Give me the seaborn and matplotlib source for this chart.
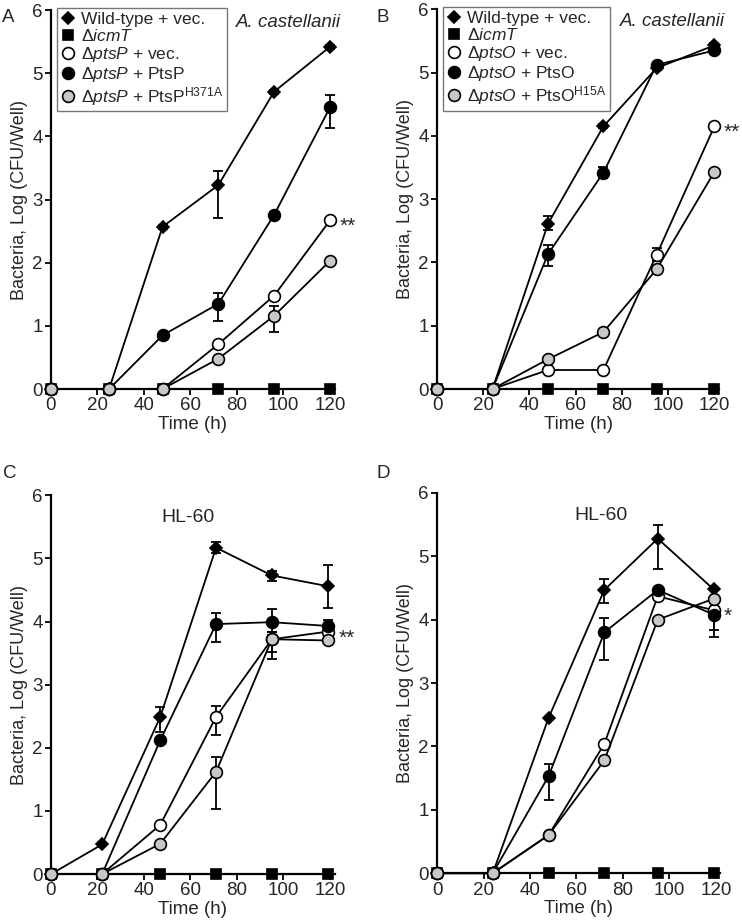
import matplotlib
matplotlib.use("Agg")
import matplotlib.pyplot as plt
from matplotlib.lines import Line2D
import seaborn as sns
import numpy as np

# ---------------- data ----------------
timeA = [0, 25, 48, 72, 96, 120]
A_wt = [0, 0, 2.57, 3.23, 4.71, 5.42]
A_wt_err = [(0, 0), (0, 0), (0.03, 0.03), (0.52, 0.22), (0.03, 0.03), (0.03, 0.03)]
A_icmT = [0, 0, 0, 0, 0, 0]
A_vec = [0, 0, 0, 0.71, 1.48, 2.67]
A_vec_err = [(0, 0)] * 6
A_comp = [0, 0, 0.85, 1.35, 2.76, 4.46]
A_comp_err = [(0, 0), (0, 0), (0.03, 0.03), (0.28, 0.17), (0.04, 0.04), (0.33, 0.19)]
A_mut = [0, 0, 0, 0.48, 1.16, 2.03]
A_mut_err = [(0, 0), (0, 0), (0, 0), (0.03, 0.03), (0.25, 0.16), (0.03, 0.03)]

timeB = [0, 24, 48, 72, 95, 120]
B_wt = [0, 0, 2.61, 4.15, 5.07, 5.43]
B_wt_err = [(0, 0), (0, 0), (0.10, 0.12), (0.03, 0.03), (0.03, 0.03), (0.04, 0.04)]
B_icmT = [0, 0, 0, 0, 0, 0]
B_vec = [0, 0, 0.30, 0.30, 2.12, 4.15]
B_vec_err = [(0, 0), (0, 0), (0, 0), (0, 0), (0.10, 0.10), (0, 0)]
B_comp = [0, 0, 2.13, 3.42, 5.12, 5.35]
B_comp_err = [(0, 0), (0, 0), (0.19, 0.15), (0.09, 0.08), (0.03, 0.03), (0.03, 0.03)]
B_mut = [0, 0, 0.47, 0.90, 1.89, 3.43]
B_mut_err = [(0, 0)] * 6

timeC = [0, 22, 47, 71, 95, 119]
C_wt = [0, 0.47, 2.49, 5.17, 4.73, 4.56]
C_wt_err = [(0, 0), (0, 0), (0.24, 0.15), (0.09, 0.09), (0.08, 0.07), (0.35, 0.33)]
C_icmT = [0, 0, 0, 0, 0, 0]
C_vec = [0, 0, 0.78, 2.49, 3.72, 3.84]
C_vec_err = [(0, 0), (0, 0), (0, 0), (0.29, 0.17), (0.20, 0.12), (0, 0)]
C_comp = [0, 0, 2.12, 3.96, 3.99, 3.93]
C_comp_err = [(0, 0), (0, 0), (0, 0), (0.29, 0.17), (0.21, 0.21), (0.09, 0.09)]
C_mut = [0, 0, 0.48, 1.62, 3.72, 3.70]
C_mut_err = [(0, 0), (0, 0), (0, 0), (0.59, 0.24), (0.32, 0.12), (0, 0)]

timeD = [0, 24, 48, 72, 95, 119]
D_wt = [0, 0, 2.45, 4.47, 5.28, 4.48]
D_wt_err = [(0, 0), (0, 0), (0, 0), (0.20, 0.18), (0.48, 0.22), (0, 0)]
D_icmT = [0, 0, 0, 0, 0, 0]
D_vec = [0, 0, 0.60, 2.04, 4.37, 4.15]
D_vec_err = [(0, 0), (0, 0), (0, 0), (0, 0), (0, 0), (0.31, 0)]
D_comp = [0, 0, 1.53, 3.80, 4.47, 4.08]
D_comp_err = [(0, 0), (0, 0), (0.37, 0.19), (0.44, 0.22), (0, 0), (0.36, 0.18)]
D_mut = [0, 0, 0.60, 1.78, 4.00, 4.33]
D_mut_err = [(0, 0)] * 6

legend_A = ["Wild-type + vec.", r"Δ$\it{icmT}$", r"Δ$\it{ptsP}$ + vec.",
            r"Δ$\it{ptsP}$ + PtsP", r"Δ$\it{ptsP}$ + PtsP$^{\mathrm{H371A}}$"]
legend_B = ["Wild-type + vec.", r"Δ$\it{icmT}$", r"Δ$\it{ptsO}$ + vec.",
            r"Δ$\it{ptsO}$ + PtsO", r"Δ$\it{ptsO}$ + PtsO$^{\mathrm{H15A}}$"]

# ---------------- style ----------------
sns.set_style("ticks")
plt.rcParams["font.family"] = ["Liberation Sans", "DejaVu Sans"]
plt.rcParams["mathtext.fontset"] = "custom"
plt.rcParams["mathtext.rm"] = "Liberation Sans"
plt.rcParams["mathtext.it"] = "Liberation Sans:italic"
plt.rcParams["mathtext.bf"] = "Liberation Sans:bold"

FS = 12
TICK_FS = 13.5
LABEL_FS = 13
GRAY = "#c8c8c8"
LW = 1.3
styles = [
    dict(marker="D", markersize=6.0, markerfacecolor="black"),
    dict(marker="s", markersize=7.0, markerfacecolor="black"),
    dict(marker="o", markersize=8.5, markerfacecolor="white"),
    dict(marker="o", markersize=8.5, markerfacecolor="black"),
    dict(marker="o", markersize=8.5, markerfacecolor=GRAY),
]

fig = plt.figure(figsize=(7.42, 9.24), dpi=100)

boxes = {
    "A": [0.0687, 0.579, 0.451 - 0.0687, 0.989 - 0.579],
    "B": [0.589, 0.579, 0.969 - 0.589, 0.990 - 0.579],
    "C": [0.0687, 0.054, 0.451 - 0.0687, 0.464 - 0.054],
    "D": [0.589, 0.055, 0.971 - 0.589, 0.4665 - 0.055],
}

panels = {
    "A": (timeA, [(A_wt, A_wt_err), (A_icmT, [(0, 0)] * 6), (A_vec, A_vec_err),
                  (A_comp, A_comp_err), (A_mut, A_mut_err)]),
    "B": (timeB, [(B_wt, B_wt_err), (B_icmT, [(0, 0)] * 6), (B_vec, B_vec_err),
                  (B_comp, B_comp_err), (B_mut, B_mut_err)]),
    "C": (timeC, [(C_wt, C_wt_err), (C_icmT, [(0, 0)] * 6), (C_vec, C_vec_err),
                  (C_comp, C_comp_err), (C_mut, C_mut_err)]),
    "D": (timeD, [(D_wt, D_wt_err), (D_icmT, [(0, 0)] * 6), (D_vec, D_vec_err),
                  (D_comp, D_comp_err), (D_mut, D_mut_err)]),
}

axes = {}
for key, box in boxes.items():
    ax = fig.add_axes(box)
    axes[key] = ax
    t, series = panels[key]
    # error bars first (behind markers)
    for y, err in series:
        lo = [e[0] for e in err]
        hi = [e[1] for e in err]
        if any(v > 0 for v in lo + hi):
            ax.errorbar(t, y, yerr=[lo, hi], fmt="none", ecolor="black",
                        elinewidth=LW, capsize=3.5, capthick=LW, zorder=2,
                        clip_on=False)
    for i, ((y, err), st) in enumerate(zip(series, styles)):
        sns.lineplot(x=t, y=y, ax=ax, color="black", linewidth=LW,
                     markeredgecolor="black", markeredgewidth=1.2,
                     clip_on=False, zorder=3 + i, **st)
    ax.set_xlim(0, 122)
    ax.set_ylim(0, 6)
    ax.set_xticks([0, 20, 40, 60, 80, 100, 120])
    ax.set_yticks([0, 1, 2, 3, 4, 5, 6])
    ax.tick_params(labelsize=TICK_FS, width=LW, length=4, direction="out",
                   color="black", pad=2)
    for s in ["left", "bottom"]:
        ax.spines[s].set_linewidth(1.6)
        ax.spines[s].set_color("black")
    sns.despine(ax=ax)
    ax.set_xlabel("Time (h)", fontsize=TICK_FS, labelpad=1)
    ax.set_ylabel("Bacteria, Log (CFU/Well)", fontsize=LABEL_FS, labelpad=3)

# legends
for key, labels in (("A", legend_A), ("B", legend_B)):
    handles = [Line2D([], [], linestyle="none", color="black",
                      markeredgecolor="black", markeredgewidth=1.2, **st)
               for st in styles]
    leg = axes[key].legend(handles, labels, loc="upper left",
                           bbox_to_anchor=(0.02, 1.005), fontsize=FS + 0.5,
                           frameon=True, fancybox=False, framealpha=1,
                           edgecolor="#777777", handlelength=0.9,
                           handletextpad=0.3, labelspacing=0.06,
                           borderpad=0.2, borderaxespad=0.0)
    leg.get_frame().set_linewidth(1.0)
    leg.set_zorder(20)

# annotations
axes["A"].text(102, 5.8, "A. castellanii", fontsize=FS + 1.5, style="italic",
               ha="center", va="center")
axes["B"].text(102, 5.8, "A. castellanii", fontsize=FS + 1.5, style="italic",
               ha="center", va="center")
axes["C"].text(59, 5.65, "HL-60", fontsize=FS + 2, ha="center", va="center")
axes["D"].text(70.5, 5.65, "HL-60", fontsize=FS + 2, ha="center", va="center")

STAR_FS = 15
axes["A"].text(124, 2.58, "**", fontsize=STAR_FS, ha="left", va="center", clip_on=False)
axes["B"].text(124, 4.06, "**", fontsize=STAR_FS, ha="left", va="center", clip_on=False)
axes["C"].text(123.5, 3.73, "**", fontsize=STAR_FS, ha="left", va="center", clip_on=False)
axes["D"].text(123.5, 4.06, "*", fontsize=STAR_FS, ha="left", va="center", clip_on=False)

# panel letters
fig.text(0.002, 0.990, "A", fontsize=FS + 1.5, ha="left", va="top")
fig.text(0.508, 0.990, "B", fontsize=FS + 1.5, ha="left", va="top")
fig.text(0.004, 0.497, "C", fontsize=FS + 1.5, ha="left", va="top")
fig.text(0.508, 0.497, "D", fontsize=FS + 1.5, ha="left", va="top")

fig.savefig("out.png", dpi=100, facecolor="white")
